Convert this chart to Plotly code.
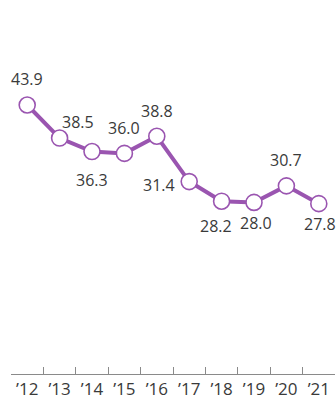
import plotly.graph_objects as go

# Yearly values, 2012-2021
years = ["’12", "’13", "’14", "’15", "’16", "’17", "’18", "’19", "’20", "’21"]
values = [43.9, 38.5, 36.3, 36.0, 38.8, 31.4, 28.2, 28.0, 30.7, 27.8]

# Pixel offsets for each value label (dx, dy) relative to its marker
label_dx = [0, 18, 0, 0, 0, -30, -6, 2, 0, 1]
label_dy = [26, 16, -28, 25, 25, -3, -25, -21, 26, -20]

PURPLE = "#9a55b0"
TEXT = "#3a3a3a"
FONT = "Open Sans"

fig = go.Figure()
fig.add_trace(go.Scatter(
    x=years,
    y=values,
    mode="lines+markers",
    line=dict(color=PURPLE, width=4),
    marker=dict(size=16, color="white", line=dict(color=PURPLE, width=1.6)),
    hoverinfo="skip",
    showlegend=False,
))

for yr, v, dx, dy in zip(years, values, label_dx, label_dy):
    fig.add_annotation(
        x=yr, y=v, text=f"{v:.1f}", showarrow=False,
        xshift=dx, yshift=dy,
        font=dict(family=FONT, size=16, color=TEXT),
    )

fig.update_xaxes(
    type="category",
    range=[-0.5, 9.5],
    automargin=False,
    showline=True, linecolor="#8a8a8a", linewidth=1,
    ticks="inside", tickson="boundaries", ticklen=7,
    tickcolor="#8a8a8a", tickwidth=1,
    showgrid=False, zeroline=False,
    ticklabelstandoff=0,
    tickfont=dict(family=FONT, size=17, color=TEXT),
)
fig.update_yaxes(
    range=[0, 59.4],
    automargin=False,
    visible=False, showgrid=False, zeroline=False,
)

fig.update_layout(
    width=336, height=400,
    margin=dict(l=11, r=1, t=10, b=26),
    paper_bgcolor="white", plot_bgcolor="white",
)

fig.write_html("out.html", include_plotlyjs=True, config={"displayModeBar": False})
